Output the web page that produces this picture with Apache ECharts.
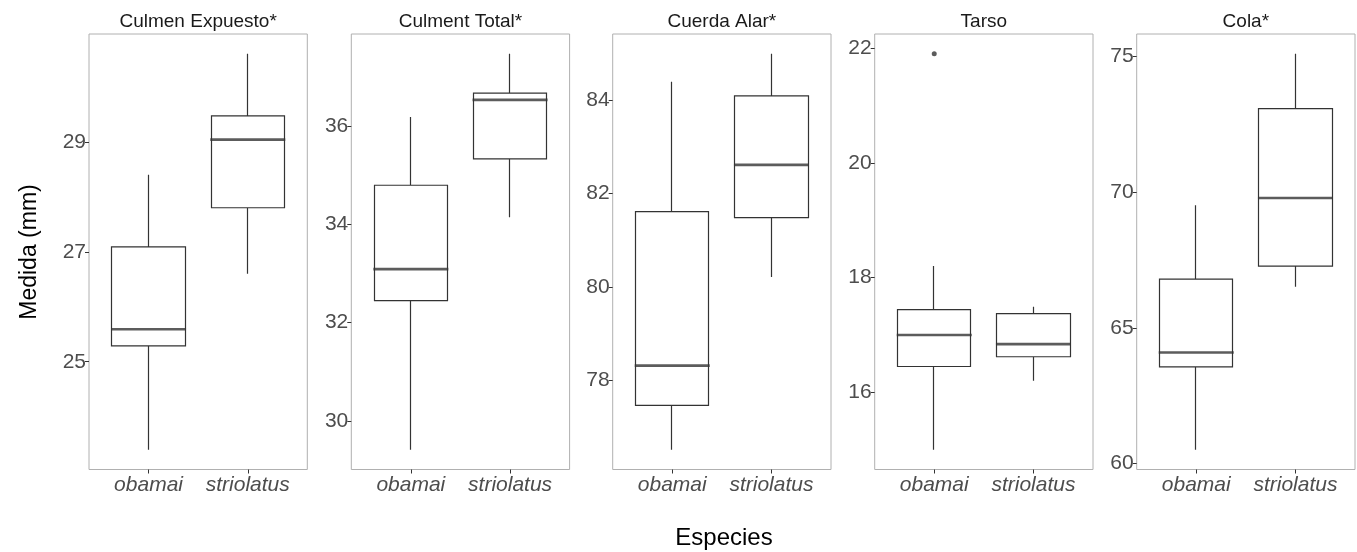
<!DOCTYPE html>
<html><head><meta charset="utf-8">
<script src="https://cdn.jsdelivr.net/npm/echarts@6/dist/echarts.min.js"></script>
<style>html,body{margin:0;padding:0;background:#fff}#c{width:1357px;height:552px}</style>
</head><body><div id="c"></div>
<script>
const panelTitles = ['Culmen Expuesto*', 'Culment Total*', 'Cuerda Alar*', 'Tarso', 'Cola*'];
const species = ['obamai', 'striolatus'];
// each row: [lower whisker, Q1, median, Q3, upper whisker] for obamai, striolatus
const culmenExpuesto = [[23.4, 25.29, 25.59, 27.09, 28.4], [26.6, 27.8, 29.04, 29.47, 30.6]];
const culmenTotal = [[29.41, 32.45, 33.09, 34.8, 36.19], [34.15, 35.34, 36.54, 36.68, 37.48]];
const cuerdaAlar = [[76.51, 77.46, 78.31, 81.61, 84.39], [80.21, 81.48, 82.61, 84.09, 84.99]];
const tarso = [[15.0, 16.45, 17.0, 17.44, 18.2], [16.2, 16.62, 16.84, 17.37, 17.49]];
const cola = [[60.51, 63.56, 64.09, 66.79, 69.51], [66.51, 67.27, 69.78, 73.07, 75.09]];
// outliers: [species index, value]
const outCulmenExpuesto = [];
const outCulmenTotal = [];
const outCuerdaAlar = [];
const outTarso = [[0, 21.9]];
const outCola = [];
const yTicks = [[25, 27, 29], [30, 32, 34, 36], [78, 80, 82, 84], [16, 18, 20, 22], [60, 65, 70, 75]];

const boxes = [culmenExpuesto, culmenTotal, cuerdaAlar, tarso, cola];
const outs = [outCulmenExpuesto, outCulmenTotal, outCuerdaAlar, outTarso, outCola];

const FONT = 'Liberation Sans, Arial, Helvetica, sans-serif';
const lefts = [89, 351.3, 612.7, 874.7, 1136.7];
const PW = 218.3, TOP = 34, PH = 435.5;
const BOXW = 74;

const grid = [], xAxis = [], yAxis = [], series = [], graphic = [];
boxes.forEach((b, i) => {
  let vals = [];
  b.forEach(r => vals.push(...r));
  outs[i].forEach(o => vals.push(o[1]));
  const lo = Math.min(...vals), hi = Math.max(...vals), pad = (hi - lo) * 0.05;
  grid.push({left: lefts[i], top: TOP, width: PW, height: PH, show: true,
    borderColor: '#b0b0b0', borderWidth: 1, backgroundColor: 'transparent'});
  xAxis.push({type: 'value', gridIndex: i, min: 0.4, max: 2.6,
    axisLine: {show: false}, splitLine: {show: false},
    axisTick: {show: true, customValues: [1, 2], length: 4, lineStyle: {color: '#333'}},
    axisLabel: {customValues: [1, 2], formatter: v => species[Math.round(v) - 1],
      fontStyle: 'italic', fontSize: 21, color: '#4d4d4d', fontFamily: FONT, margin: 5}});
  yAxis.push({type: 'value', gridIndex: i, min: lo - pad, max: hi + pad,
    axisLine: {show: false}, splitLine: {show: false},
    axisTick: {show: true, customValues: yTicks[i], length: 4, lineStyle: {color: '#333'}},
    axisLabel: {customValues: yTicks[i], fontSize: 21, color: '#4d4d4d', fontFamily: FONT, margin: 3}});
  // box (Q1..Q3) with whiskers (min..max), no caps
  series.push({type: 'candlestick', xAxisIndex: i, yAxisIndex: i,
    data: b.map((r, k) => [k + 1, r[1], r[3], r[0], r[4]]),
    barWidth: BOXW,
    itemStyle: {color: '#fff', color0: '#fff', borderColor: '#333', borderColor0: '#333',
      borderColorDoji: '#333', borderWidth: 1.2},
    emphasis: {disabled: true}, silent: true, animation: false});
  // median line
  series.push({type: 'scatter', xAxisIndex: i, yAxisIndex: i,
    data: b.map((r, k) => [k + 1, r[2]]),
    symbol: 'rect', symbolSize: [BOXW + 1, 2.6],
    itemStyle: {color: '#333'}, silent: true, animation: false, z: 5});
  series.push({type: 'scatter', xAxisIndex: i, yAxisIndex: i,
    data: outs[i].map(o => [o[0] + 1, o[1]]),
    symbol: 'circle', symbolSize: 5,
    itemStyle: {color: '#333'}, silent: true, animation: false, z: 5});
  graphic.push({type: 'text', x: lefts[i] + PW / 2, y: 22,
    style: {text: panelTitles[i], fontSize: 19, fontFamily: FONT, fill: '#1a1a1a',
      align: 'center', verticalAlign: 'middle'}});
});
graphic.push({type: 'text', x: 30, y: 252, rotation: Math.PI / 2,
  style: {text: 'Medida (mm)', fontSize: 23, fontFamily: FONT, fill: '#000',
    align: 'center', verticalAlign: 'middle'}});
graphic.push({type: 'text', x: 724, y: 538,
  style: {text: 'Especies', fontSize: 24, fontFamily: FONT, fill: '#000',
    align: 'center', verticalAlign: 'middle'}});

const chart = echarts.init(document.getElementById('c'), null, {renderer: 'canvas'});
chart.setOption({animation: false, backgroundColor: '#fff', grid, xAxis, yAxis, series, graphic});
</script></body></html>
